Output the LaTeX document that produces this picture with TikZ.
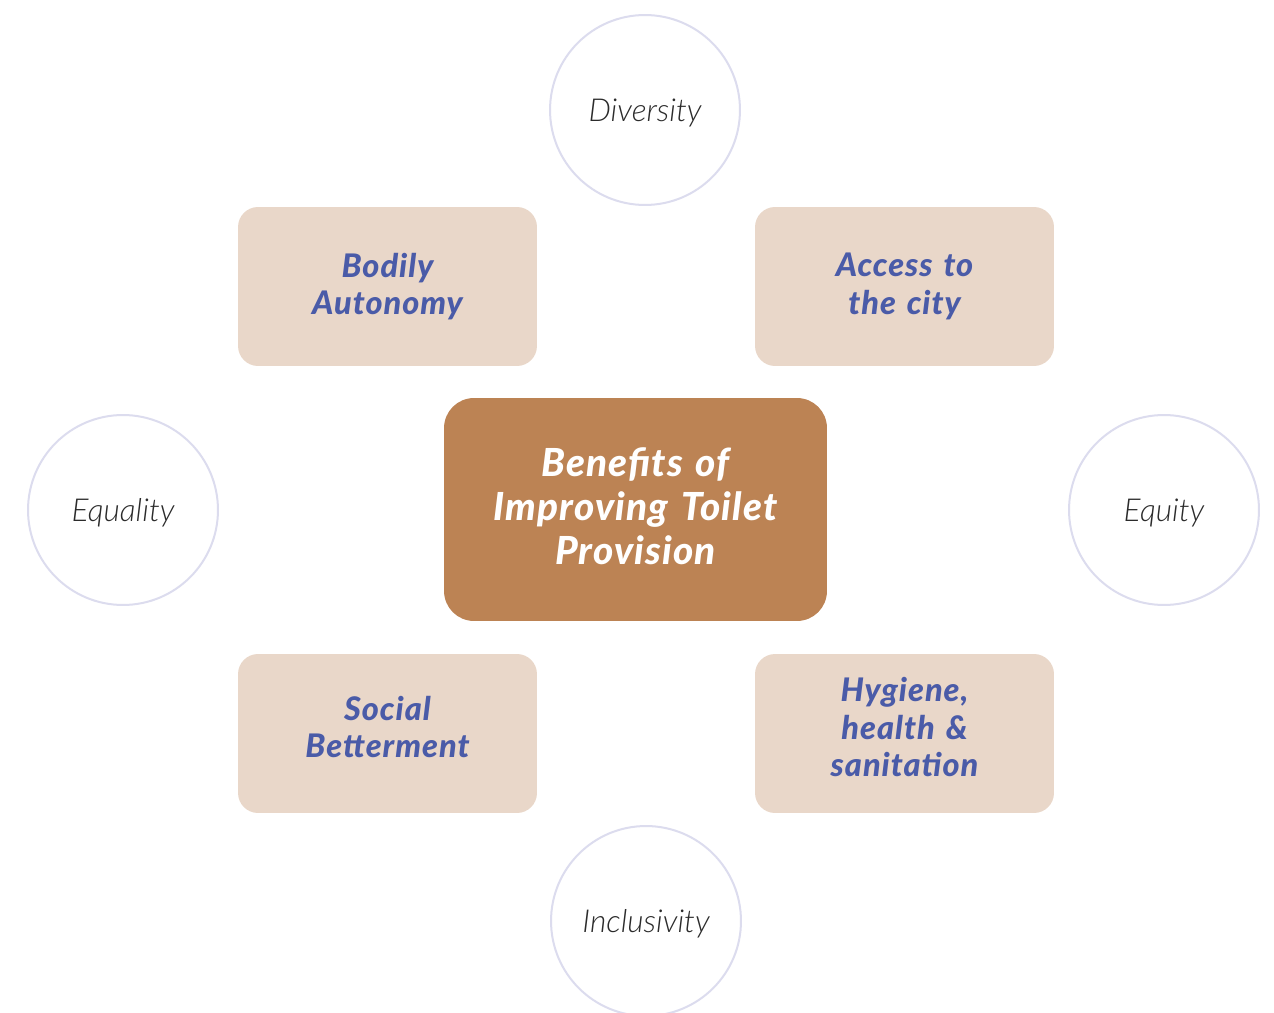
\documentclass[tikz,border=0pt]{standalone}
\usepackage{fontspec}
\setmainfont{Lato}
\newfontfamily\heavyfont{Lato}[UprightFont=* Black, ItalicFont=* Black Italic, LetterSpace=3]
\newfontfamily\lightfont{Lato}[UprightFont=* Light, ItalicFont=* Light Italic]
\usepackage{tikz}
\usetikzlibrary{
  positioning
}
\definecolor{ringline}{HTML}{DCDCEE}
\definecolor{boxfill}{HTML}{E9D7C9}
\definecolor{hubfill}{HTML}{BC8354}
\definecolor{boxtext}{HTML}{4A5BA8}
\definecolor{ringtext}{HTML}{2B2B2B}

\begin{document}
\begin{tikzpicture}[x=0.02cm, y=-0.02cm,
    value/.style={circle, draw=ringline, line width=0.04cm, fill=white,
      minimum size=3.8cm, text=ringtext, text depth=-2.5pt,
      font=\fontsize{18}{20}\lightfont\itshape},
    benefit/.style={rectangle, rounded corners=0.4cm, fill=boxfill,
      minimum width=5.98cm, minimum height=3.18cm, text width=5.6cm,
      align=center, text=boxtext,
      font=\fontsize{18.5}{21.5}\heavyfont\itshape},
    lower/.style={text depth=#1},
    hub/.style={rectangle, rounded corners=0.6cm, fill=hubfill,
      minimum width=7.66cm, minimum height=4.46cm, text width=7.2cm,
      align=center, text=white,
      font=\fontsize{22}{25}\heavyfont\itshape}]
      \useasboundingbox (0,0) rectangle (1274,1013);

      % centre
      \node [hub] (H) at (635.5,509.5) {Benefits of\\ Improving Toilet\\ Provision\vphantom{g}};

      % four benefits
      \node [benefit] (BA) at (387.5,286.5) {Bodily\\ Autonomy};
      \node [benefit] (AC) at (904.5,286.5) {Access to\\ the city};
      \node [benefit, lower=29pt] (SB) at (387.5,733.5) {Social\\ Betterment};
      \node [benefit, lower=50.5pt] (HH) at (904.5,733.5) {Hygiene,\\ health \&\\ sanitation};

      % four values
      \node [value] (Div) at (645,110) {Diversity};
      \node [value] (Eql) at (123,510) {Equality};
      \node [value] (Eqt) at (1164,510) {Equity};
      \node [value] (Inc) at (646,921) {Inclusivity};
    \end{tikzpicture}
\end{document}
